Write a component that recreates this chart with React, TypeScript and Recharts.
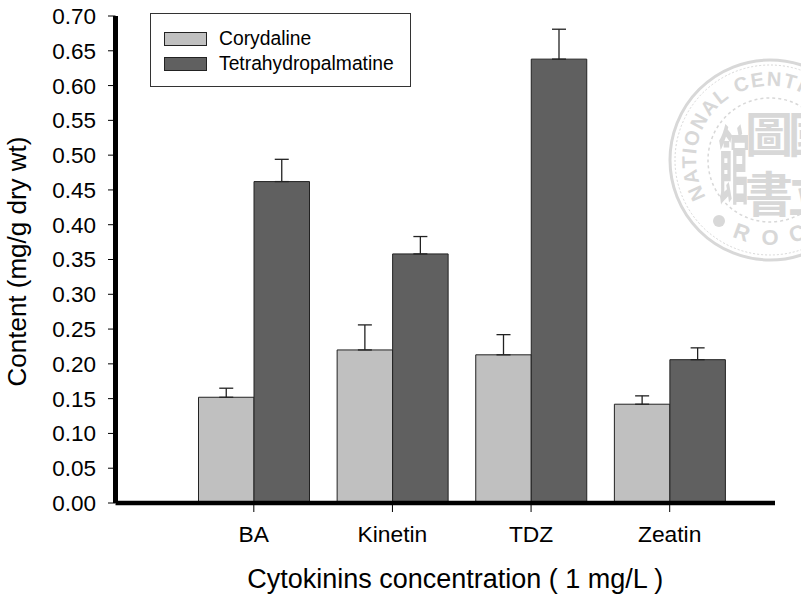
import { BarChart, Bar, ErrorBar, XAxis, YAxis, Legend } from "recharts";

const CATEGORIES = ["BA", "Kinetin", "TDZ", "Zeatin"];
const CORYDALINE = [0.152, 0.22, 0.213, 0.142];
const CORYDALINE_ERR = [0.013, 0.036, 0.029, 0.012];
const THP = [0.462, 0.358, 0.638, 0.206];
const THP_ERR = [0.032, 0.025, 0.043, 0.017];
const Y_TICKS = [0, 0.05, 0.1, 0.15, 0.2, 0.25, 0.3, 0.35, 0.4, 0.45, 0.5, 0.55, 0.6, 0.65, 0.7];

const rows = CATEGORIES.map((name, i) => ({
  name,
  cory: CORYDALINE[i],
  coryErr: [0, CORYDALINE_ERR[i]],
  thp: THP[i],
  thpErr: [0, THP_ERR[i]],
}));

const FONT = "'Liberation Sans', Arial, sans-serif";
const LIGHT = "#c0c0c0";
const DARK = "#606060";
const EDGE = "#222";
const STAMP = "#d8d8d8";

function LegendBox({ payload }: any) {
  return (
    <div
      style={{
        width: 261,
        height: 74,
        boxSizing: "border-box",
        border: "1px solid #333",
        background: "#fff",
        fontFamily: FONT,
        fontSize: 19.3,
        color: "#000",
        paddingTop: 12,
        paddingLeft: 13,
      }}
    >
      {(payload ?? []).map((p: any) => (
        <div key={p.value} style={{ display: "flex", alignItems: "center", height: 25 }}>
          <span
            style={{
              width: 43,
              height: 14,
              boxSizing: "border-box",
              border: `1px solid ${EDGE}`,
              background: p.color,
              marginRight: 12,
            }}
          />
          {p.value}
        </div>
      ))}
    </div>
  );
}

// library stamp showing through the scan, cut off by the right edge
function Stamp() {
  const cx = 770;
  const cy = 160;
  return (
    <g fill={STAMP} stroke="none" fontFamily={FONT}>
      <circle cx={cx} cy={cy} r={100} fill="none" stroke={STAMP} strokeWidth={3} />
      <circle cx={cx} cy={cy} r={95} fill="none" stroke={STAMP} strokeWidth={1} strokeDasharray="2 2" />
      <circle cx={cx} cy={cy} r={62} fill="none" stroke={STAMP} strokeWidth={1.5} strokeDasharray="3 3" />
      <path id="stampRing" d="M 706 197 A 74 74 0 1 1 834 197" fill="none" />
      <text fontSize={20} fontWeight={700} letterSpacing={1.5}>
        <textPath href="#stampRing">NATIONAL CENTRAL LIBRARY</textPath>
      </text>
      <circle cx={719} cy={221} r={6} />
      <text x={742} y={240} fontSize={22} fontWeight={700} textAnchor="middle" transform="rotate(20 742 232)">R</text>
      <text x={770} y={245} fontSize={22} fontWeight={700} textAnchor="middle">O</text>
      <text x={797} y={241} fontSize={22} fontWeight={700} textAnchor="middle" transform="rotate(-20 797 233)">C</text>
      <g fontFamily="'Noto Sans CJK TC'" fontWeight={700} fontSize={48} textAnchor="middle">
        <text x={769} y={152}>圖</text>
        <text x={769} y={212}>書</text>
        <text transform="translate(734 197) scale(0.7 1.9)" fontSize={44}>館</text>
        <text x={812} y={152}>國</text>
        <text x={812} y={212}>立</text>
      </g>
    </g>
  );
}

export default function App() {
  return (
    <div style={{ position: "absolute", left: 0, top: 0, width: 801, height: 594, background: "#fff" }}>
      <BarChart
        width={801}
        height={594}
        data={rows}
        margin={{ top: 16, right: 26, bottom: 0, left: 0 }}
        barSize={55.5}
        barGap={0}
      >
        <Stamp />
        <XAxis
          dataKey="name"
          height={91}
          padding={{ left: 69, right: 36 }}
          axisLine={{ stroke: "#000", strokeWidth: 4.5 }}
          tickLine={{ stroke: "#000", strokeWidth: 1 }}
          tickSize={9}
          tickMargin={14}
          tick={{ fill: "#000", fontSize: 22.8, fontFamily: FONT }}
          label={{
            value: "Cytokinins concentration ( 1 mg/L )",
            position: "insideBottom",
            offset: 6,
            dx: 10,
            fill: "#000",
            fontSize: 27,
            fontFamily: FONT,
          }}
        />
        <YAxis
          width={115.5}
          domain={[0, 0.7]}
          ticks={Y_TICKS}
          interval={0}
          tickFormatter={(v: number) => v.toFixed(2)}
          axisLine={{ stroke: "#000", strokeWidth: 5 }}
          tickLine={{ stroke: "#000", strokeWidth: 1 }}
          tickSize={7.5}
          tickMargin={12}
          tick={{ fill: "#000", fontSize: 22.5, fontFamily: FONT }}
          label={{
            value: "Content (mg/g dry wt)",
            angle: -90,
            position: "insideLeft",
            offset: 0,
            dx: 17,
            dy: 2,
            fill: "#000",
            fontSize: 26,
            fontFamily: FONT,
            style: { textAnchor: "middle" },
          }}
        />
        <Legend
          content={<LegendBox />}
          align="center"
          verticalAlign="middle"
          wrapperStyle={{ left: 150, top: 13, width: 261, height: 74 }}
        />
        <Bar dataKey="cory" name="Corydaline" fill={LIGHT} stroke={EDGE} strokeWidth={1} isAnimationActive={false}>
          <ErrorBar dataKey="coryErr" direction="y" width={7} stroke="#222" strokeWidth={1.3} isAnimationActive={false} />
        </Bar>
        <Bar dataKey="thp" name="Tetrahydropalmatine" fill={DARK} stroke={EDGE} strokeWidth={1} isAnimationActive={false}>
          <ErrorBar dataKey="thpErr" direction="y" width={7} stroke="#222" strokeWidth={1.3} isAnimationActive={false} />
        </Bar>
      </BarChart>
    </div>
  );
}
